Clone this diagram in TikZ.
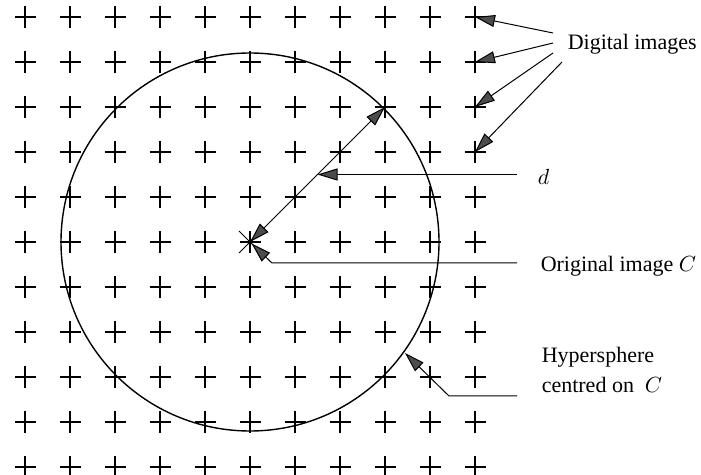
\documentclass[tikz,border=0pt]{standalone}
\usepackage{fontspec}
\setmainfont{Liberation Serif}
\usetikzlibrary{arrows.meta,positioning,calc}
\tikzset{every picture/.style={line width=0.75pt}}

\begin{document}
\begin{tikzpicture}[x=0.5pt,y=-0.5pt,
    gridmark/.style={line width=0.6pt},
    >={Triangle[length=10pt,width=6pt,fill=black!70]},
    pointer/.style={->, line width=0.5pt},
    tag/.style={font=\fontsize{11}{15}\selectfont, inner sep=0pt, anchor=base west, align=left}]
    \useasboundingbox (0,0) rectangle (701,475);
    % grid of images
    \foreach \i in {0,...,10} {
        \foreach \j in {0,...,10} {
            \coordinate (g-\i-\j) at (25+45*\i, 17+45*\j);
            \draw[gridmark] ($(g-\i-\j)+(-10.5,0)$) -- ($(g-\i-\j)+(10.5,0)$);
            \draw[gridmark] ($(g-\i-\j)+(0,-11)$) -- ($(g-\i-\j)+(0,11)$);
        }
    }
    \coordinate (C) at (g-5-5);
    \draw[line width=0.4pt] ($(C)+(-11,-11)$) -- ($(C)+(11,11)$);
    \draw[line width=0.4pt] ($(C)+(-11,11)$) -- ($(C)+(11,-11)$);
    \fill (C) circle[radius=2];
    \draw[line width=0.7pt] (C) circle[radius=189];
    % labels
    \node[tag] (dig) at (567,50) {Digital images};
    \node[tag] (dl) at (537,185) {$d$};
    \node[tag] (orig) at (540,272) {Original image $C$};
    \node[tag] (hyp) at (541,393) {Hypersphere\\centred on \ $C$};
    % distance d
    \draw[<->, line width=0.5pt] (g-8-2) -- (C);
    \coordinate (dmid) at ($(C)!0.5!(g-8-2)$);
    \coordinate (dend) at (517,0);
    \draw[pointer] (dmid -| dend) -- (dmid);
    % original image
    \coordinate (oend) at (517,263);
    \coordinate (oknee) at (272,263);
    \draw[pointer, shorten >=1pt] (oend) -- (oknee) -- (C);
    % hypersphere
    \coordinate (hend) at (517,396);
    \coordinate (hknee) at (449,396);
    \coordinate (htip) at (405,353);
    \draw[pointer] (hend) -- (hknee) -- (htip);
    % digital images
    \foreach \r/\sx/\sy in {0/553/33, 1/553/43, 2/553/53, 3/562/62} {
        \draw[pointer] (\sx,\sy) -- (g-10-\r);
    }
\end{tikzpicture}
\end{document}
